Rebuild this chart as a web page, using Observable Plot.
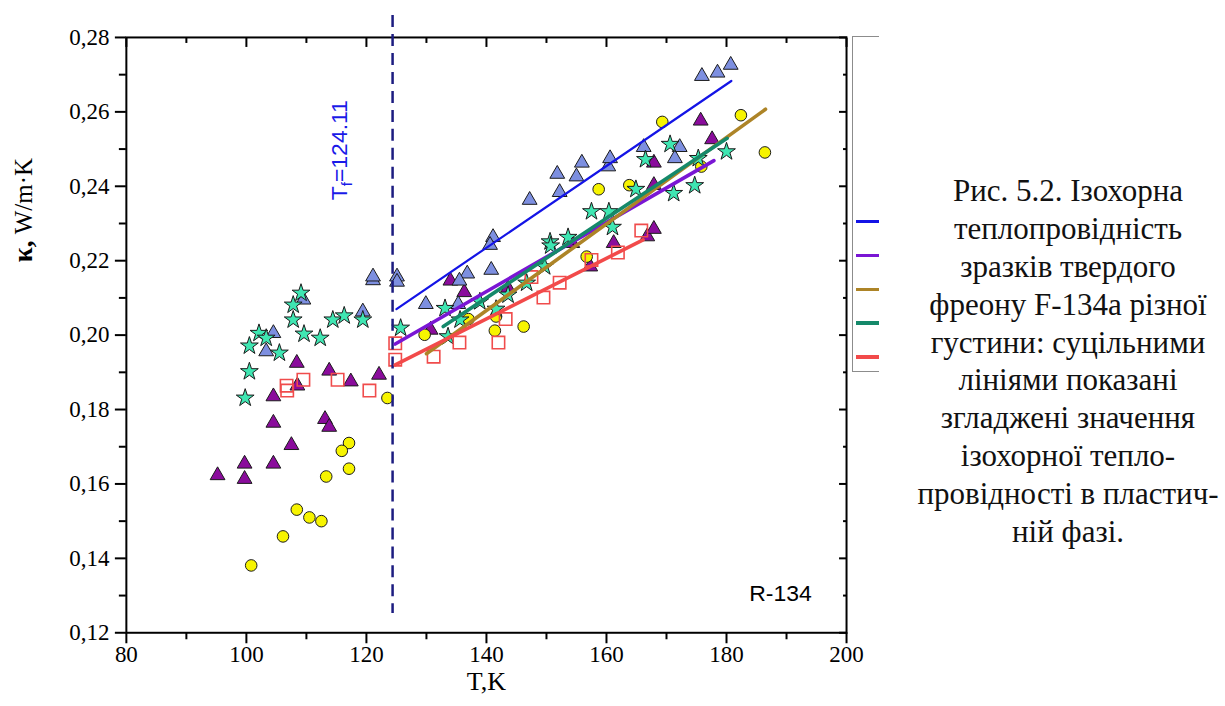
<!DOCTYPE html>
<html>
<head>
<meta charset="utf-8">
<script src="https://cdn.jsdelivr.net/npm/d3@7"></script>
<script src="https://cdn.jsdelivr.net/npm/@observablehq/plot@0.6"></script>
<style>
  html, body { margin: 0; padding: 0; background: #fff; }
  body { width: 1225px; height: 706px; position: relative; overflow: hidden; }
  #clip { position: absolute; left: 0; top: 0; width: 879px; height: 706px; overflow: hidden; }
  #legend { position: absolute; left: 852px; top: 36px; width: 60px; height: 336px;
            border: 1.5px solid #8c8c8c; border-right: none; box-sizing: border-box; }
  .lg { position: absolute; left: 3px; width: 60px; height: 3px; }
  #caption { position: absolute; left: 905px; top: 172px; width: 326px;
             font-family: "Liberation Serif", "Times New Roman", serif; font-size: 31px;
             text-align: center; color: #111; }
  #caption div { height: 37.9px; line-height: 37.9px; white-space: nowrap; }
</style>
</head>
<body>
<div id="clip"><div id="chartHolder"></div><div id="legend"></div></div>
<div id="caption"></div>
<script>
// ---------------- data (T in K, kappa in W/m·K) ----------------
const Tf = 124.11;

const blueTriangles = [
  [121.1,0.2147],[121.1,0.2157],[125.1,0.2157],[125.1,0.2143],[109.5,0.2095],[104.5,0.2005],
  [103.3,0.1956],[119.4,0.2063],[129.9,0.2083],[135.3,0.2083],[136.8,0.2165],[135.5,0.2146],
  [140.8,0.2175],[141.1,0.2263],[140.6,0.2242],[147.2,0.2363],[152.2,0.2384],[151.8,0.2433],
  [155.0,0.2426],[155.9,0.2463],[160.3,0.2453],[160.6,0.2475],[166.2,0.2505],[172.2,0.2505],
  [171.4,0.2475],[175.9,0.2696],[178.5,0.2705],[180.7,0.2726]
];
const purpleTriangles = [
  [108.4,0.1925],[108.5,0.1864],[113.8,0.1904],[117.4,0.1875],[122.1,0.1893],[104.5,0.1835],
  [104.5,0.1764],[113.1,0.1774],[113.8,0.1753],[107.5,0.1704],[99.7,0.1654],[104.5,0.1654],
  [95.2,0.1623],[99.7,0.1613],[134.0,0.2146],[136.3,0.2115],[130.7,0.2014],[143.6,0.2126],
  [154.3,0.2247],[157.3,0.2184],[161.2,0.2247],[166.8,0.2265],[167.9,0.2285],[167.9,0.2403],
  [167.9,0.2463],[175.7,0.2576],[177.6,0.2526]
];
const yellowCircles = [
  [123.5,0.1831],[117.1,0.1710],[115.9,0.1689],[117.1,0.1641],[113.3,0.1620],[108.4,0.1531],
  [110.5,0.1510],[112.5,0.1500],[106.1,0.1459],[100.8,0.1381],[129.7,0.2001],[137.0,0.2043],
  [141.4,0.2012],[141.6,0.2050],[146.2,0.2023],[156.7,0.2211],[158.7,0.2392],[163.8,0.2403],
  [169.3,0.2573],[175.8,0.2453],[182.4,0.2591],[186.4,0.2491]
];
const greenStars = [
  [109.1,0.2113],[107.8,0.2081],[107.8,0.2041],[102.1,0.2005],[103.3,0.1992],[100.5,0.1971],
  [105.5,0.1952],[109.6,0.2003],[112.3,0.1992],[114.4,0.2041],[116.3,0.2052],[119.4,0.2041],
  [100.5,0.1902],[99.8,0.1831],[125.7,0.2019],[133.1,0.2072],[133.6,0.1996],[135.6,0.2041],
  [138.9,0.2090],[141.6,0.2070],[143.6,0.2108],[146.7,0.2140],[149.7,0.2184],[150.6,0.2251],
  [150.7,0.2240],[153.6,0.2263],[157.5,0.2332],[160.4,0.2332],[161.0,0.2290],[164.9,0.2392],
  [166.5,0.2472],[170.6,0.2513],[171.2,0.2381],[174.7,0.2402],[175.3,0.2475],[180.0,0.2493]
];
const redSquares = [
  [106.7,0.1864],[106.8,0.1851],[109.5,0.1880],[115.2,0.1880],[120.5,0.1851],[124.8,0.1978],
  [124.8,0.1934],[131.2,0.1942],[135.5,0.1980],[142.0,0.1980],[143.2,0.2043],[147.5,0.2156],
  [149.5,0.2101],[152.2,0.2141],[157.5,0.2202],[161.9,0.2222],[165.8,0.2281]
];

// smoothed lines (start, end)
const blueFit   = [[125.0,0.2070],[180.8,0.2683]];
const purpleFit = [[124.8,0.1976],[177.9,0.2469]];
const brownFit  = [[130.0,0.1950],[186.5,0.2607]];
const greenFit  = [[132.8,0.2023],[180.1,0.2529]];
const redFit    = [[124.8,0.1920],[166.1,0.2256]];

const fitColors = ["#1414e6", "#7a16d4", "#ad8427", "#15896a", "#f24a4a"];

// axes
const xMajor = [80, 100, 120, 140, 160, 180, 200];
const xMinor = [90, 110, 130, 150, 170, 190];
const yMajor = [0.12, 0.14, 0.16, 0.18, 0.20, 0.22, 0.24, 0.26, 0.28];
const yMinor = [0.13, 0.15, 0.17, 0.19, 0.21, 0.23, 0.25, 0.27];

// annotations
const tfLineExtent = [0.2859, 0.1252];
const tfLabel = {T: 115.6, k: 0.2497, text: "Tf=124.11"};
const sampleLabel = {T: 189.0, k: 0.1306, text: "R-134"};
const xLabel = "T,K";
const yLabel = "κ, W/m·K";

const captionLines = [
  "Рис. 5.2. Ізохорна", "теплопровідність", "зразків твердого", "фреону F-134а різної",
  "густини: суцільними", "лініями показані", "згладжені значення", "ізохорної тепло-",
  "провідності в пластич-", "ній фазі."
];

// ---------------- chart ----------------
const serif = "'Liberation Serif','Times New Roman',serif";
const sans = "'Liberation Sans',Arial,sans-serif";
const fmt = d => d.toFixed(2).replace(".", ",");
const px = d => d[0], py = d => d[1];
const mstroke = "#1b1b1b";

const chart = Plot.plot({
  width: 880, height: 706,
  marginLeft: 126, marginRight: 33, marginTop: 37, marginBottom: 73,
  x: {domain: [80, 200], label: null},
  y: {domain: [0.12, 0.28], label: null},
  style: {fontFamily: serif, fontSize: "23px", color: "black", background: "white", overflow: "visible"},
  marks: [
    // axes: bottom/left outward, top/right inward
    Plot.axisX({anchor: "bottom", ticks: xMajor, tickSize: 11, tickPadding: 2, tickFormat: d => String(d),
                stroke: "black", fill: "black", strokeWidth: 2, fontSize: 23, label: null}),
    Plot.axisX({anchor: "bottom", ticks: xMinor, tickSize: 7, stroke: "black", fill: "none", strokeWidth: 2, label: null}),
    Plot.axisX({anchor: "top", ticks: xMajor, tickSize: 9, dy: 9, stroke: "black", fill: "none", strokeWidth: 2, label: null}),
    Plot.axisX({anchor: "top", ticks: xMinor, tickSize: 5, dy: 5, stroke: "black", fill: "none", strokeWidth: 2, label: null}),
    Plot.axisY({anchor: "left", ticks: yMajor, tickSize: 11, tickPadding: 6, tickFormat: fmt,
                stroke: "black", fill: "black", strokeWidth: 2, fontSize: 23, label: null}),
    Plot.axisY({anchor: "left", ticks: yMinor, tickSize: 7, stroke: "black", fill: "none", strokeWidth: 2, label: null}),
    Plot.axisY({anchor: "right", ticks: yMajor, tickSize: 8, dx: -8, stroke: "black", fill: "none", strokeWidth: 2, label: null}),
    Plot.axisY({anchor: "right", ticks: yMinor, tickSize: 4, dx: -4, stroke: "black", fill: "none", strokeWidth: 2, label: null}),
    Plot.frame({stroke: "black", strokeWidth: 2}),

    // data points
    Plot.dot(purpleTriangles, {x: px, y: py, symbol: "triangle", r: 5.5, fill: "#8a0c9c", stroke: mstroke, strokeWidth: 1}),
    Plot.dot(blueTriangles, {x: px, y: py, symbol: "triangle", r: 5.5, fill: "#7d8fe0", stroke: mstroke, strokeWidth: 1}),
    Plot.dot(yellowCircles, {x: px, y: py, symbol: "circle", r: 5.8, fill: "#f7f400", stroke: mstroke, strokeWidth: 1}),
    Plot.dot(greenStars, {x: px, y: py, symbol: "star", r: 5.6, fill: "#3fe6b2", stroke: mstroke, strokeWidth: 1}),
    Plot.dot(redSquares, {x: px, y: py, symbol: "square", r: 7, fill: "none", stroke: "#f04c4c", strokeWidth: 1.6}),

    // transition temperature
    Plot.ruleX([Tf], {y1: tfLineExtent[0], y2: tfLineExtent[1], dx: 1.5, stroke: "#1c1c80", strokeWidth: 2.5, strokeDasharray: "12,7"}),

    // smoothed lines
    Plot.line(blueFit,   {x: px, y: py, stroke: fitColors[0], strokeWidth: 2.2}),
    Plot.line(purpleFit, {x: px, y: py, stroke: fitColors[1], strokeWidth: 3.6}),
    Plot.line(brownFit,  {x: px, y: py, stroke: fitColors[2], strokeWidth: 3.6}),
    Plot.line(greenFit,  {x: px, y: py, stroke: fitColors[3], strokeWidth: 3.6}),
    Plot.line(redFit,    {x: px, y: py, stroke: fitColors[4], strokeWidth: 3.6}),

    // annotations
    Plot.text([tfLabel], {x: "T", y: "k", text: "text", rotate: -90, fill: "#1a1ae8", fontFamily: sans, fontSize: 23}),
    Plot.text([sampleLabel], {x: "T", y: "k", text: "text", fill: "black", fontFamily: sans, fontSize: 23}),
    Plot.text([xLabel], {frameAnchor: "bottom", dy: 57, fontSize: 26, fontFamily: serif, fill: "black"}),
    Plot.text([yLabel], {frameAnchor: "left", dx: -102, dy: -73, rotate: -90, fontSize: 25, fontFamily: serif, fill: "black"})
  ]
});

// rich text: bold kappa, subscript f
d3.select(chart).selectAll("text").each(function() {
  const t = d3.select(this);
  const s = this.textContent;
  if (s === yLabel) {
    t.text(null);
    t.append("tspan").attr("font-weight", "bold").attr("font-size", 27).text("κ,");
    t.append("tspan").text(" W/m·K");
  } else if (s === tfLabel.text) {
    t.text(null);
    t.append("tspan").text("T");
    t.append("tspan").attr("font-size", 15).attr("dy", 5).text("f");
    t.append("tspan").attr("dy", -5).text("=124.11");
  }
});

document.getElementById("chartHolder").appendChild(chart);

// legend (partially visible, as in the original figure)
const legend = document.getElementById("legend");
fitColors.forEach((c, i) => {
  const d = document.createElement("div");
  d.className = "lg";
  d.style.top = (183 + i * 33.8) + "px";
  d.style.background = c;
  d.style.height = i === 0 ? "2.5px" : "3.5px";
  legend.appendChild(d);
});

// caption
const cap = document.getElementById("caption");
captionLines.forEach(l => {
  const d = document.createElement("div");
  d.textContent = l;
  cap.appendChild(d);
});
</script>
</body>
</html>
